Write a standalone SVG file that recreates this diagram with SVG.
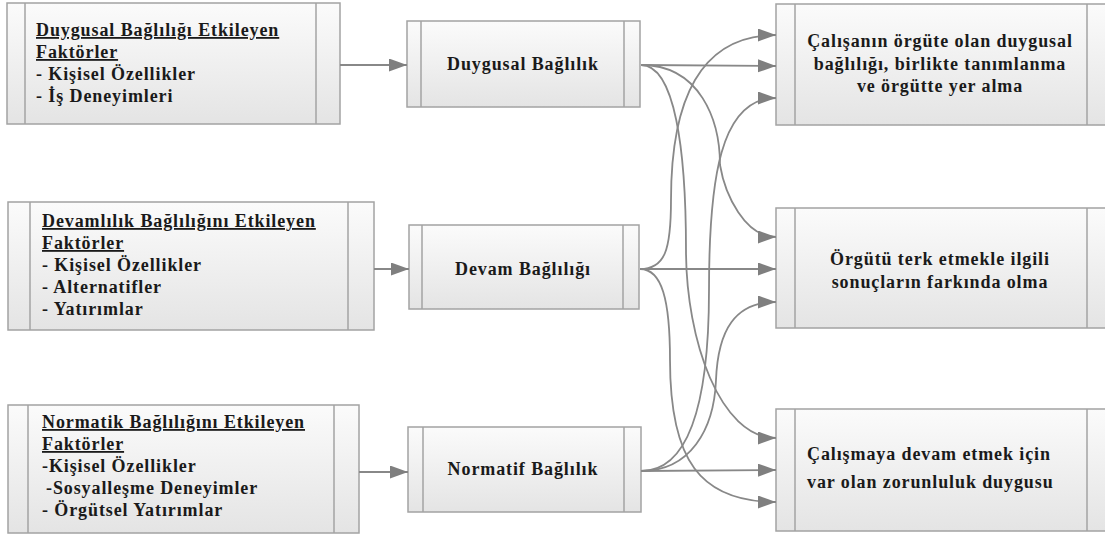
<svg xmlns="http://www.w3.org/2000/svg" width="1105" height="534" viewBox="0 0 1105 534">
<style>
.box{fill:url(#g);stroke:#a3a3a3;stroke-width:1.5}
.in{stroke:#a3a3a3;stroke-width:1.5;fill:none}
.t{font-family:"Liberation Serif","Times New Roman",serif;font-weight:bold;font-size:18px;letter-spacing:0.9px;fill:#1a1a1a}
.u{text-decoration:underline}
.c{fill:none;stroke:#888;stroke-width:1.8;marker-end:url(#a)}
</style>
<defs>
<linearGradient id="g" x1="0" y1="0" x2="0" y2="1">
<stop offset="0" stop-color="#fbfbfb"/>
<stop offset="1" stop-color="#e4e4e4"/>
</linearGradient>
<marker id="a" markerUnits="userSpaceOnUse" markerWidth="19" markerHeight="14" refX="18" refY="6.5" orient="auto">
<path d="M0,0 L18,6.5 L0,13 z" fill="#7f7f7f"/>
</marker>
</defs>
<rect width="1105" height="534" fill="#fff"/>

<g id="left1">
<rect class="box" x="7" y="3" width="333" height="121"/>
<line class="in" x1="25" y1="3" x2="25" y2="124"/><line class="in" x1="316" y1="3" x2="316" y2="124"/>
<text class="t" x="36" y="36"><tspan class="u">Duygusal Bağlılığı Etkileyen</tspan><tspan class="u" x="36" dy="22">Faktörler</tspan><tspan x="36" dy="22">- Kişisel Özellikler</tspan><tspan x="36" dy="22">- İş Deneyimleri</tspan></text>
</g>
<g id="left2">
<rect class="box" x="8" y="202" width="366" height="128"/>
<line class="in" x1="30" y1="202" x2="30" y2="330"/><line class="in" x1="348" y1="202" x2="348" y2="330"/>
<text class="t" x="42" y="227"><tspan class="u">Devamlılık Bağlılığını Etkileyen</tspan><tspan class="u" x="42" dy="22">Faktörler</tspan><tspan x="42" dy="22">- Kişisel Özellikler</tspan><tspan x="42" dy="22">- Alternatifler</tspan><tspan x="42" dy="22">- Yatırımlar</tspan></text>
</g>
<g id="left3">
<rect class="box" x="8" y="405" width="351" height="128"/>
<line class="in" x1="28" y1="405" x2="28" y2="533"/><line class="in" x1="334" y1="405" x2="334" y2="533"/>
<text class="t" x="42" y="428"><tspan class="u">Normatik Bağlılığını Etkileyen</tspan><tspan class="u" x="42" dy="22">Faktörler</tspan><tspan x="42" dy="22">-Kişisel Özellikler</tspan><tspan x="46" dy="22">-Sosyalleşme Deneyimler</tspan><tspan x="42" dy="22">- Örgütsel Yatırımlar</tspan></text>
</g>

<g id="mid1">
<rect class="box" x="407" y="21" width="233" height="86"/>
<line class="in" x1="421" y1="21" x2="421" y2="107"/><line class="in" x1="624" y1="21" x2="624" y2="107"/>
<text class="t" x="523" y="70" text-anchor="middle">Duygusal Bağlılık</text>
</g>
<g id="mid2">
<rect class="box" x="409" y="225" width="230" height="84"/>
<line class="in" x1="422" y1="225" x2="422" y2="309"/><line class="in" x1="623" y1="225" x2="623" y2="309"/>
<text class="t" x="523" y="275" text-anchor="middle">Devam Bağlılığı</text>
</g>
<g id="mid3">
<rect class="box" x="408" y="427" width="233" height="85"/>
<line class="in" x1="423" y1="427" x2="423" y2="512"/><line class="in" x1="624" y1="427" x2="624" y2="512"/>
<text class="t" x="523" y="475" text-anchor="middle">Normatif Bağlılık</text>
</g>

<g id="right1">
<rect class="box" x="776" y="4" width="340" height="121"/>
<line class="in" x1="795" y1="4" x2="795" y2="125"/><line class="in" x1="1087" y1="4" x2="1087" y2="125"/>
<text class="t" x="940" y="47" text-anchor="middle"><tspan x="940">Çalışanın örgüte olan duygusal</tspan><tspan x="940" dy="23">bağlılığı, birlikte tanımlanma</tspan><tspan x="940" dy="22">ve örgütte yer alma</tspan></text>
</g>
<g id="right2">
<rect class="box" x="776" y="208" width="340" height="120"/>
<line class="in" x1="795" y1="208" x2="795" y2="328"/><line class="in" x1="1087" y1="208" x2="1087" y2="328"/>
<text class="t" x="940" y="265" text-anchor="middle"><tspan x="940">Örgütü terk etmekle ilgili</tspan><tspan x="940" dy="23">sonuçların farkında olma</tspan></text>
</g>
<g id="right3">
<rect class="box" x="776" y="409" width="340" height="122"/>
<line class="in" x1="795" y1="409" x2="795" y2="531"/><line class="in" x1="1087" y1="409" x2="1087" y2="531"/>
<text class="t" x="807" y="460"><tspan x="807">Çalışmaya devam etmek için</tspan><tspan x="807" dy="28">var olan zorunluluk duygusu</tspan></text>
</g>

<g id="connectors">
<path class="c" d="M340,65 L407,65"/>
<path class="c" d="M374,269 L409,269"/>
<path class="c" d="M359,472 L408,472"/>
<path class="c" d="M641,65 L776,66"/>
<path class="c" d="M641,65 C700,65 720,120 720,165 C725,195 745,237 776,237"/>
<path class="c" d="M641,65 C675,65 686,150 686,250 C686,340 720,438 776,438"/>
<path class="c" d="M640,269 C665,269 671,250 671,200 C671,100 700,35 776,35"/>
<path class="c" d="M640,269 L776,269"/>
<path class="c" d="M640,269 C662,269 670,300 670,360 C670,460 700,502 776,502"/>
<path class="c" d="M641,471 C690,471 709,400 709,290 C709,180 720,98 776,98"/>
<path class="c" d="M641,471 C690,471 714,430 716,380 C718,330 735,302 776,302"/>
<path class="c" d="M641,471 L776,470"/>
</g>
</svg>
